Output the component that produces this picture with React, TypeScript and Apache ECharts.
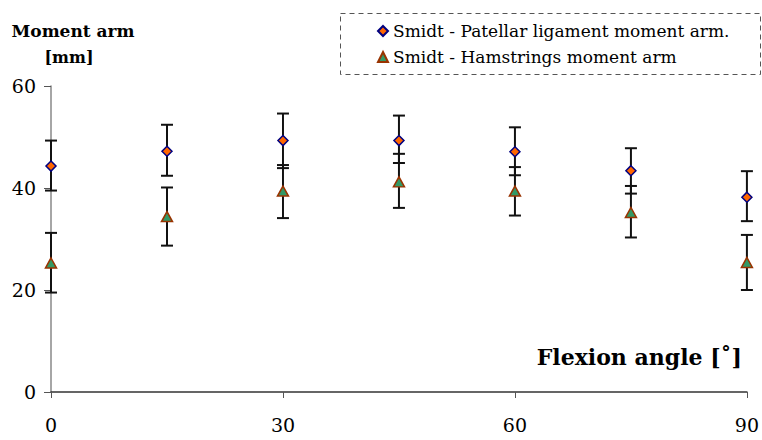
import React, { useEffect, useRef } from "react";
import * as echarts from "echarts";

const angles = [0, 15, 30, 45, 60, 75, 90];
const patellarMean = [44.3, 47.2, 49.3, 49.3, 47.1, 43.4, 38.2];
const patellarLow = [39.5, 42.4, 43.9, 44.9, 42.5, 38.9, 33.5];
const patellarHigh = [49.3, 52.4, 54.6, 54.2, 51.9, 47.8, 43.3];
const hamMean = [25.3, 34.4, 39.4, 41.2, 39.4, 35.2, 25.4];
const hamLow = [19.5, 28.7, 34.1, 36.1, 34.6, 30.3, 20.0];
const hamHigh = [31.2, 40.1, 44.5, 46.7, 44.1, 40.4, 30.8];

const xTicks = [0, 30, 60, 90];
const yTicks = [0, 20, 40, 60];

const FONT = "'DejaVu Serif', serif";

function errorRender(params: any, api: any) {
  const x = api.value(0);
  const lo = api.coord([x, api.value(1)]);
  const hi = api.coord([x, api.value(2)]);
  const hw = 6;
  const style = { stroke: "#111", lineWidth: 2 };
  return {
    type: "group",
    children: [
      { type: "line", shape: { x1: lo[0], y1: lo[1], x2: hi[0], y2: hi[1] }, style },
      { type: "line", shape: { x1: lo[0] - hw, y1: lo[1], x2: lo[0] + hw, y2: lo[1] }, style },
      { type: "line", shape: { x1: hi[0] - hw, y1: hi[1], x2: hi[0] + hw, y2: hi[1] }, style },
    ],
  };
}

export default function App() {
  const ref = useRef<HTMLDivElement>(null);
  useEffect(() => {
    if (!ref.current) return;
    const chart = echarts.init(ref.current, null, { renderer: "svg" });
    const pErr = angles.map((a, i) => [a, patellarLow[i], patellarHigh[i]]);
    const hErr = angles.map((a, i) => [a, hamLow[i], hamHigh[i]]);
    chart.setOption({
      animation: false,
      backgroundColor: "#fff",
      grid: { left: 51, right: 15, top: 86, bottom: 48 },
      xAxis: {
        type: "value",
        min: xTicks[0],
        max: xTicks[xTicks.length - 1],
        interval: 30,
        axisLine: { lineStyle: { color: "#333", width: 1.5 } },
        axisTick: { inside: false, length: 6, lineStyle: { color: "#555" } },
        axisLabel: { fontFamily: FONT, fontSize: 19, color: "#000", margin: 23 },
        splitLine: { show: false },
      },
      yAxis: {
        type: "value",
        min: yTicks[0],
        max: yTicks[yTicks.length - 1],
        interval: 20,
        axisLine: { show: true, lineStyle: { color: "#888", width: 1.5 } },
        axisTick: { show: true, inside: false, length: 7, lineStyle: { color: "#555" } },
        axisLabel: { fontFamily: FONT, fontSize: 19, color: "#000", margin: 15 },
        splitLine: { show: false },
      },
      legend: {
        orient: "vertical",
        left: 372,
        top: 16,
        itemWidth: 10,
        itemHeight: 10,
        itemGap: 6,
        textStyle: { fontFamily: FONT, fontSize: 17, color: "#000", lineHeight: 20 },
        data: [
          { name: "Smidt - Patellar ligament moment arm.", icon: "diamond" },
          { name: "Smidt - Hamstrings moment arm", icon: "triangle" },
        ],
      },
      graphic: [
        {
          type: "rect",
          shape: { x: 340.5, y: 13.5, width: 420, height: 61 },
          style: { fill: "none", stroke: "#555", lineWidth: 1, lineDash: [5, 4] },
          silent: true,
        },
        {
          type: "text",
          x: 73,
          y: 31,
          style: { text: "Moment arm", font: `bold 17px ${FONT}`, fill: "#000", align: "center", verticalAlign: "middle" },
        },
        {
          type: "text",
          x: 69,
          y: 57,
          style: { text: "[mm]", font: `bold 16px ${FONT}`, fill: "#000", align: "center", verticalAlign: "middle" },
        },
        {
          type: "text",
          x: 742,
          y: 357,
          style: { text: "Flexion angle [˚]", font: `bold 22px ${FONT}`, fill: "#000", align: "right", verticalAlign: "middle" },
        },
      ],
      series: [
        {
          type: "custom",
          name: "errP",
          renderItem: errorRender,
          data: pErr,
          encode: { x: 0, y: [1, 2] },
          z: 1,
          silent: true,
        },
        {
          type: "custom",
          name: "errH",
          renderItem: errorRender,
          data: hErr,
          encode: { x: 0, y: [1, 2] },
          z: 1,
          silent: true,
        },
        {
          type: "scatter",
          name: "Smidt - Patellar ligament moment arm.",
          symbol: "diamond",
          symbolSize: 10,
          data: angles.map((a, i) => [a, patellarMean[i]]),
          itemStyle: { color: "#FF6600", borderColor: "#000080", borderWidth: 1.5, opacity: 1 },
          z: 3,
        },
        {
          type: "scatter",
          name: "Smidt - Hamstrings moment arm",
          symbol: "triangle",
          symbolSize: [11, 10],
          data: angles.map((a, i) => [a, hamMean[i]]),
          itemStyle: { color: "#339966", borderColor: "#993300", borderWidth: 1.5, opacity: 1 },
          z: 3,
        },
      ],
    });
    return () => chart.dispose();
  }, []);
  return <div ref={ref} style={{ width: 762, height: 440, position: "absolute", left: 0, top: 0 }} />;
}
